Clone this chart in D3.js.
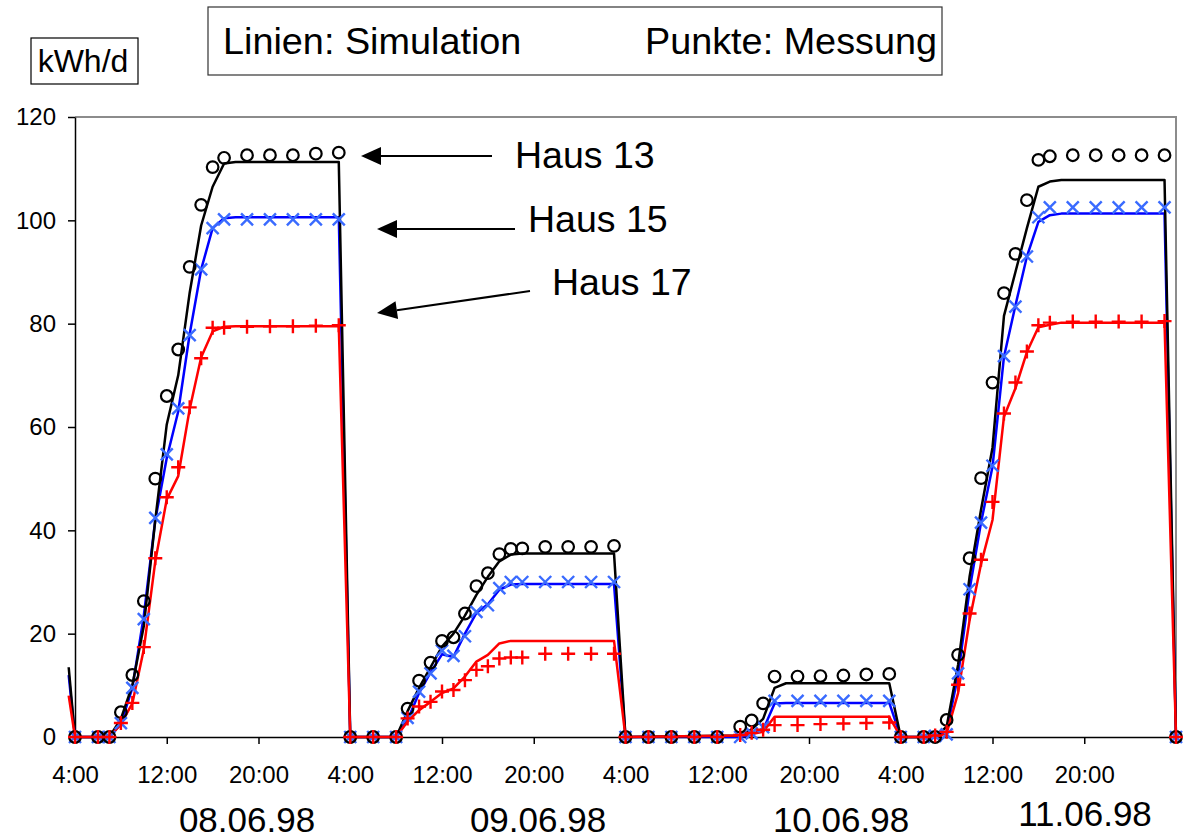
<!DOCTYPE html>
<html>
<head>
<meta charset="utf-8">
<script src="https://cdn.jsdelivr.net/npm/d3@7"></script>
<style>
  body { margin: 0; background: #fff; }
  svg { display: block; font-family: "Liberation Sans", Arial, sans-serif; }
</style>
</head>
<body>
<script>
// hours counted from 08.06.98 4:00
const measTimes = [0,2,3,4,5,6,7,8,9,10,11,12,13,15,17,19,21,23,
  24,26,28,29,30,31,32,33,34,35,36,37,38,39,41,43,45,47,
  48,50,52,54,56,58,59,60,61,63,65,67,69,71,
  72,74,75,76,77,78,79,80,81,82,83,84,85,87,89,91,93,95,96];

// Punkte: Messung
const haus13Meas = [0,0,0,4.8,12,26.3,50,66,75,91,103,110.3,112.1,112.6,112.6,112.6,112.9,113.1,
  0,0,0,5.5,10.9,14.4,18.6,19.3,23.9,29.2,31.7,35.4,36.4,36.5,36.8,36.8,36.8,37.0,
  0,0,0,0,0,2.0,3.2,6.5,11.7,11.7,11.8,11.9,12.1,12.2,
  0,0,0,3.3,15.9,34.6,50.1,68.6,85.9,93.5,103.9,111.7,112.4,112.6,112.6,112.6,112.6,112.6,0];
const haus15Meas = [0,0,0,2.7,9.5,22.8,42.4,54.7,63.6,77.8,90.5,98.5,100.2,100.2,100.2,100.2,100.2,100.2,
  0,0,0,3.7,8.8,12.3,16.7,15.7,19.5,24.2,25.5,28.8,30.0,30.0,30.0,30.0,30.0,30.0,
  0,0,0,0,0,0,0.7,1.9,7.0,7.0,7.0,7.0,7.0,7.0,
  0,0,0.2,0.5,12.3,28.6,41.5,52.5,73.7,83.3,93,100.6,102.5,102.5,102.5,102.5,102.5,102.5,0];
const haus17Meas = [0,0,0,2.7,6.6,17.4,34.6,46.4,52.2,63.8,73.3,79.2,79.2,79.4,79.5,79.5,79.6,79.7,
  0,0,0,3.6,5.9,6.8,8.8,9.1,11.0,13.0,13.7,15.2,15.4,15.4,16.1,16.1,16.1,16.1,
  0,0,0,0,0,0.4,0.8,1.4,2.3,2.3,2.5,2.6,2.7,2.8,
  0,0,0.3,1.0,10.1,23.9,34.3,45.5,62.6,68.6,74.6,79.7,80.2,80.4,80.4,80.4,80.4,80.5,0];

// Linien: Simulation
const simTimes = [-0.55,0,3,4,5,6,7,8,9,10,11,12,13,14,23,24,
  28,29,30,31,32,33,34,35,36,37,38,39,47,48,
  58,59,60,61,62,71,72,
  75,76,77,78,79,80,81,82,83,84,85,86,95,96];
const haus13Sim = [13.5,0,0,3.5,10,21.5,42,60.5,70,86,99,106.5,111,111.3,111.3,0,
  0,5,9.5,13.5,17.5,20,23.5,27.5,31,34,35.3,35.5,35.5,0,
  0.3,1.5,3.5,9.5,10.4,10.4,0,
  0,2,14,31,44,56,81.5,90,98.5,106.5,107.5,107.8,107.8,0];
const haus15Sim = [12,0,0,2.5,9.5,23.5,42,54,63,78,90.5,98.5,100.4,100.6,100.6,0,
  0,3.3,8.5,12.5,16,15.5,20,24,25.7,28.5,29.5,29.6,29.6,0,
  0,0.5,1.4,6.5,6.6,6.6,0,
  0,1,12,28.5,41.5,52.3,73.6,83.5,93,99.7,101,101.3,101.3,0];
const haus17Sim = [8,0,0,2.5,6.5,17,34,46,50.5,63.5,73.5,78.5,79.4,79.5,79.5,0,
  0,3.0,5.2,6.8,8.5,9.4,11.7,14.6,15.9,18.1,18.6,18.6,18.6,0,
  0.3,0.6,1.0,3.9,3.9,3.9,0,
  0,0.7,8.5,22.6,33.5,42,62,67.5,74.5,79.3,79.8,80.2,80.2,0];

const yTicks = [0,20,40,60,80,100,120];
const xTicks = [0,8,16,24,32,40,48,56,64,72,80,88,96];
const xTickLabels = ['4:00','12:00','20:00','4:00','12:00','20:00','4:00','12:00','20:00','4:00','12:00','20:00',''];
const dayLabels = ['08.06.98','09.06.98','10.06.98','11.06.98'];
const houseLabels = ['Haus 13','Haus 15','Haus 17'];

const width = 1184, height = 840;
const x = d3.scaleLinear().domain([0,96]).range([75,1176]);
const y = d3.scaleLinear().domain([0,120]).range([737,117]);

const svg = d3.select('body').append('svg')
  .attr('width', width).attr('height', height);
svg.append('rect').attr('width', width).attr('height', height).attr('fill', '#fff');

// plot frame (top and right in grey)
svg.append('path')
  .attr('d', `M${x(0)},${y(120)}H${x(96)}V${y(0)}`)
  .attr('fill', 'none').attr('stroke', '#8c8c8c').attr('stroke-width', 2);

// axes
const yAxis = d3.axisLeft(y).tickValues(yTicks).tickSize(7).tickSizeOuter(0).tickPadding(12);
const gy = svg.append('g').attr('transform', `translate(${x(0)},0)`).call(yAxis);
gy.selectAll('text').attr('font-size', 24).attr('fill', '#000').attr('font-family', 'Liberation Sans, Arial');

const xAxis = d3.axisBottom(x).tickValues(xTicks).tickSize(7).tickSizeOuter(0).tickPadding(22)
  .tickFormat((d, i) => xTickLabels[i]);
const gx = svg.append('g').attr('transform', `translate(0,${y(0)})`).call(xAxis);
gx.selectAll('text').attr('font-size', 24).attr('fill', '#000').attr('font-family', 'Liberation Sans, Arial');
svg.selectAll('.domain, .tick line').attr('stroke', '#000').attr('stroke-width', 1.5);

// simulation lines
const line = d3.line().x(d => x(d.t)).y(d => y(d.v));
const sims = [
  {vals: haus15Sim, color: '#0000ff'},
  {vals: haus13Sim, color: '#000000'},
  {vals: haus17Sim, color: '#ff0000'}
];
sims.forEach(s => {
  svg.append('path')
    .datum(simTimes.map((t, i) => ({t: t, v: s.vals[i]})))
    .attr('d', line)
    .attr('fill', 'none')
    .attr('stroke', s.color)
    .attr('stroke-width', 2.5)
    .attr('stroke-linejoin', 'round');
});

// measured points
function pts(vals) { return measTimes.map((t, i) => ({t: t, v: vals[i]})); }

svg.append('g').selectAll('path').data(pts(haus15Meas)).enter().append('path')
  .attr('transform', d => `translate(${x(d.t)},${y(d.v)})`)
  .attr('d', 'M-6,-6L6,6M-6,6L6,-6')
  .attr('stroke', '#3a6bff').attr('stroke-width', 2.4).attr('fill', 'none');

svg.append('g').selectAll('circle').data(pts(haus13Meas)).enter().append('circle')
  .attr('cx', d => x(d.t)).attr('cy', d => y(d.v)).attr('r', 5.8)
  .attr('fill', 'none').attr('stroke', '#000').attr('stroke-width', 2.2);

svg.append('g').selectAll('path').data(pts(haus17Meas)).enter().append('path')
  .attr('transform', d => `translate(${x(d.t)},${y(d.v)})`)
  .attr('d', 'M-7,0H7M0,-7V7')
  .attr('stroke', '#ff0000').attr('stroke-width', 2.4).attr('fill', 'none');

// boxes at the top
svg.append('rect').attr('x', 31).attr('y', 38).attr('width', 107).attr('height', 46)
  .attr('fill', 'none').attr('stroke', '#000').attr('stroke-width', 1.2);
svg.append('text').attr('x', 83).attr('y', 72).attr('text-anchor', 'middle')
  .attr('font-size', 32).text('kWh/d');

svg.append('rect').attr('x', 208).attr('y', 7).attr('width', 734).attr('height', 68)
  .attr('fill', 'none').attr('stroke', '#333').attr('stroke-width', 1.2);
svg.append('text').attr('x', 223).attr('y', 54).attr('font-size', 37.8).text('Linien: Simulation');
svg.append('text').attr('x', 937).attr('y', 54).attr('text-anchor', 'end').attr('font-size', 37.8).text('Punkte: Messung');

// arrows with house labels
const arrowPos = [
  {x1: 492, y1: 156, x2: 361, y2: 156, tx: 515, ty: 168},
  {x1: 515, y1: 229, x2: 377, y2: 229, tx: 528, ty: 232},
  {x1: 530, y1: 291, x2: 377, y2: 313, tx: 552, ty: 295}
];
arrowPos.forEach((a, i) => {
  const ang = Math.atan2(a.y2 - a.y1, a.x2 - a.x1);
  const len = 20, hw = 9;
  const bx = a.x2 - len * Math.cos(ang), by = a.y2 - len * Math.sin(ang);
  svg.append('line').attr('x1', a.x1).attr('y1', a.y1).attr('x2', bx).attr('y2', by)
    .attr('stroke', '#000').attr('stroke-width', 2);
  const p = [[a.x2, a.y2],
    [bx + hw * Math.sin(ang), by - hw * Math.cos(ang)],
    [bx - hw * Math.sin(ang), by + hw * Math.cos(ang)]];
  svg.append('polygon').attr('points', p.map(q => q.join(',')).join(' ')).attr('fill', '#000');
  svg.append('text').attr('x', a.tx).attr('y', a.ty).attr('font-size', 37.5).text(houseLabels[i]);
});

// day labels under the axis (kept just inside the bottom edge)
const dayPos = [{cx: 247, by: 832}, {cx: 538, by: 832}, {cx: 841, by: 832}, {cx: 1085, by: 826}];
dayLabels.forEach((d, i) => {
  svg.append('text').attr('x', dayPos[i].cx).attr('y', dayPos[i].by)
    .attr('text-anchor', 'middle').attr('font-size', 35).text(d);
});
</script>
</body>
</html>
